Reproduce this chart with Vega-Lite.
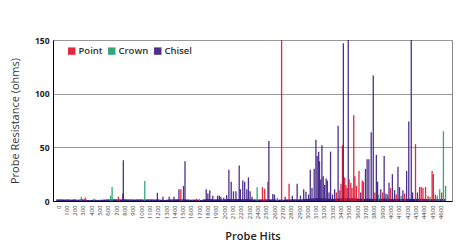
{
  "$schema": "https://vega.github.io/schema/vega-lite/v6.json",
  "width": 399,
  "height": 161,
  "autosize": {"type": "none"},
  "padding": {"left": 53, "top": 40, "right": 20, "bottom": 47},
  "background": "#ffffff",
  "config": {
    "view": {"stroke": "#888888", "strokeWidth": 1},
    "font": "Open Sans"
  },
  "datasets": {
    "base": [
      {"hit": 0, "ohms": 1.5, "probe": "Chisel"}, {"hit": 40, "ohms": 1.5, "probe": "Chisel"}, {"hit": 80, "ohms": 1.4, "probe": "Chisel"}, {"hit": 120, "ohms": 1.5, "probe": "Chisel"}, {"hit": 160, "ohms": 1.3, "probe": "Chisel"}, {"hit": 200, "ohms": 1.5, "probe": "Chisel"}, {"hit": 240, "ohms": 1.2, "probe": "Chisel"}, {"hit": 280, "ohms": 1.5, "probe": "Chisel"}, {"hit": 320, "ohms": 1.4, "probe": "Chisel"}, {"hit": 360, "ohms": 1.0, "probe": "Chisel"},
      {"hit": 400, "ohms": 1.0, "probe": "Chisel"}, {"hit": 440, "ohms": 1.2, "probe": "Chisel"}, {"hit": 480, "ohms": 1.0, "probe": "Chisel"}, {"hit": 520, "ohms": 1.1, "probe": "Chisel"}, {"hit": 560, "ohms": 1.3, "probe": "Chisel"}, {"hit": 600, "ohms": 1.5, "probe": "Chisel"}, {"hit": 640, "ohms": 1.5, "probe": "Chisel"}, {"hit": 680, "ohms": 1.6, "probe": "Chisel"}, {"hit": 720, "ohms": 1.5, "probe": "Chisel"}, {"hit": 760, "ohms": 1.5, "probe": "Chisel"},
      {"hit": 800, "ohms": 1.6, "probe": "Chisel"}, {"hit": 840, "ohms": 1.5, "probe": "Chisel"}, {"hit": 880, "ohms": 1.5, "probe": "Chisel"}, {"hit": 920, "ohms": 1.4, "probe": "Chisel"}, {"hit": 960, "ohms": 1.5, "probe": "Chisel"}, {"hit": 1000, "ohms": 1.5, "probe": "Chisel"}, {"hit": 1040, "ohms": 1.3, "probe": "Chisel"}, {"hit": 1080, "ohms": 1.5, "probe": "Chisel"}, {"hit": 1120, "ohms": 1.5, "probe": "Chisel"}, {"hit": 1160, "ohms": 1.4, "probe": "Chisel"},
      {"hit": 1200, "ohms": 1.5, "probe": "Chisel"}, {"hit": 1240, "ohms": 1.2, "probe": "Chisel"}, {"hit": 1280, "ohms": 1.0, "probe": "Chisel"}, {"hit": 1320, "ohms": 1.2, "probe": "Chisel"}, {"hit": 1360, "ohms": 1.5, "probe": "Chisel"}, {"hit": 1400, "ohms": 1.5, "probe": "Chisel"}, {"hit": 1440, "ohms": 1.6, "probe": "Chisel"}, {"hit": 1480, "ohms": 1.5, "probe": "Chisel"}, {"hit": 1520, "ohms": 1.5, "probe": "Chisel"}, {"hit": 1560, "ohms": 1.4, "probe": "Chisel"},
      {"hit": 1600, "ohms": 1.2, "probe": "Chisel"}, {"hit": 1640, "ohms": 1.3, "probe": "Chisel"}, {"hit": 1680, "ohms": 1.2, "probe": "Chisel"}, {"hit": 1720, "ohms": 1.0, "probe": "Chisel"}, {"hit": 1760, "ohms": 1.5, "probe": "Chisel"}, {"hit": 1800, "ohms": 1.8, "probe": "Chisel"}, {"hit": 1840, "ohms": 1.7, "probe": "Chisel"}, {"hit": 1880, "ohms": 1.5, "probe": "Chisel"}, {"hit": 1920, "ohms": 1.6, "probe": "Chisel"}, {"hit": 1960, "ohms": 1.5, "probe": "Chisel"},
      {"hit": 2000, "ohms": 1.6, "probe": "Chisel"}, {"hit": 2040, "ohms": 1.8, "probe": "Chisel"}, {"hit": 2080, "ohms": 1.8, "probe": "Chisel"}, {"hit": 2120, "ohms": 1.7, "probe": "Chisel"}, {"hit": 2160, "ohms": 1.8, "probe": "Chisel"}, {"hit": 2200, "ohms": 1.8, "probe": "Chisel"}, {"hit": 2240, "ohms": 1.6, "probe": "Chisel"}, {"hit": 2280, "ohms": 1.8, "probe": "Chisel"}, {"hit": 2320, "ohms": 1.5, "probe": "Chisel"}, {"hit": 2360, "ohms": 1.5, "probe": "Chisel"},
      {"hit": 2400, "ohms": 1.4, "probe": "Chisel"}, {"hit": 2440, "ohms": 1.5, "probe": "Chisel"}, {"hit": 2480, "ohms": 1.5, "probe": "Chisel"}, {"hit": 2520, "ohms": 1.6, "probe": "Chisel"}, {"hit": 2560, "ohms": 1.5, "probe": "Chisel"}, {"hit": 2600, "ohms": 1.5, "probe": "Chisel"}, {"hit": 2640, "ohms": 1.2, "probe": "Chisel"}, {"hit": 2680, "ohms": 1.3, "probe": "Chisel"}, {"hit": 2720, "ohms": 1.2, "probe": "Chisel"}, {"hit": 2760, "ohms": 1.5, "probe": "Chisel"},
      {"hit": 2800, "ohms": 1.5, "probe": "Chisel"}, {"hit": 2840, "ohms": 1.6, "probe": "Chisel"}, {"hit": 2880, "ohms": 1.5, "probe": "Chisel"}, {"hit": 2920, "ohms": 1.5, "probe": "Chisel"}, {"hit": 2960, "ohms": 1.8, "probe": "Chisel"}, {"hit": 3000, "ohms": 2.0, "probe": "Chisel"}, {"hit": 3040, "ohms": 2.2, "probe": "Chisel"}, {"hit": 3080, "ohms": 2.5, "probe": "Chisel"}, {"hit": 3120, "ohms": 2.5, "probe": "Chisel"}, {"hit": 3160, "ohms": 2.5, "probe": "Chisel"},
      {"hit": 3200, "ohms": 2.4, "probe": "Chisel"}, {"hit": 3240, "ohms": 2.2, "probe": "Chisel"}, {"hit": 3280, "ohms": 2.0, "probe": "Chisel"}, {"hit": 3320, "ohms": 2.0, "probe": "Chisel"}, {"hit": 3360, "ohms": 2.2, "probe": "Chisel"}, {"hit": 3400, "ohms": 2.5, "probe": "Chisel"}, {"hit": 3440, "ohms": 2.5, "probe": "Chisel"}, {"hit": 3480, "ohms": 2.5, "probe": "Chisel"}, {"hit": 3520, "ohms": 2.5, "probe": "Chisel"}, {"hit": 3560, "ohms": 2.5, "probe": "Chisel"},
      {"hit": 3600, "ohms": 2.3, "probe": "Chisel"}, {"hit": 3640, "ohms": 2.0, "probe": "Chisel"}, {"hit": 3680, "ohms": 2.0, "probe": "Chisel"}, {"hit": 3720, "ohms": 2.2, "probe": "Chisel"}, {"hit": 3760, "ohms": 2.0, "probe": "Chisel"}, {"hit": 3800, "ohms": 2.0, "probe": "Chisel"}, {"hit": 3840, "ohms": 2.0, "probe": "Chisel"}, {"hit": 3880, "ohms": 2.0, "probe": "Chisel"}, {"hit": 3920, "ohms": 2.2, "probe": "Chisel"}, {"hit": 3960, "ohms": 2.0, "probe": "Chisel"},
      {"hit": 4000, "ohms": 2.0, "probe": "Chisel"}, {"hit": 4040, "ohms": 2.0, "probe": "Chisel"}, {"hit": 4080, "ohms": 2.0, "probe": "Chisel"}, {"hit": 4120, "ohms": 2.0, "probe": "Chisel"}, {"hit": 4160, "ohms": 2.0, "probe": "Chisel"}, {"hit": 4200, "ohms": 2.0, "probe": "Chisel"}, {"hit": 4240, "ohms": 2.0, "probe": "Chisel"}, {"hit": 4280, "ohms": 2.0, "probe": "Chisel"}, {"hit": 4320, "ohms": 2.0, "probe": "Chisel"}, {"hit": 4360, "ohms": 2.0, "probe": "Chisel"},
      {"hit": 4400, "ohms": 2.0, "probe": "Chisel"}, {"hit": 4440, "ohms": 1.8, "probe": "Chisel"}, {"hit": 4480, "ohms": 1.8, "probe": "Chisel"}, {"hit": 4520, "ohms": 1.8, "probe": "Chisel"}, {"hit": 4560, "ohms": 1.8, "probe": "Chisel"}, {"hit": 4600, "ohms": 1.8, "probe": "Chisel"}, {"hit": 4640, "ohms": 1.8, "probe": "Chisel"}
    ],
    "spikes": [
      {"hit": 282, "ohms": 4, "probe": "Crown"}, {"hit": 328, "ohms": 3, "probe": "Point"}, {"hit": 434, "ohms": 2, "probe": "Crown"}, {"hit": 633, "ohms": 5, "probe": "Crown"}, {"hit": 651, "ohms": 13, "probe": "Crown"},
      {"hit": 727, "ohms": 4, "probe": "Point"}, {"hit": 780, "ohms": 7, "probe": "Chisel"}, {"hit": 786, "ohms": 38, "probe": "Chisel"}, {"hit": 1044, "ohms": 18.6, "probe": "Crown"}, {"hit": 1196, "ohms": 7.7, "probe": "Chisel"},
      {"hit": 1263, "ohms": 4, "probe": "Chisel"}, {"hit": 1337, "ohms": 4, "probe": "Chisel"}, {"hit": 1396, "ohms": 4, "probe": "Chisel"}, {"hit": 1455, "ohms": 11, "probe": "Chisel"}, {"hit": 1478, "ohms": 11, "probe": "Point"},
      {"hit": 1510, "ohms": 14, "probe": "Chisel"}, {"hit": 1528, "ohms": 37, "probe": "Chisel"}, {"hit": 1666, "ohms": 2, "probe": "Point"}, {"hit": 1701, "ohms": 2, "probe": "Crown"}, {"hit": 1783, "ohms": 11, "probe": "Chisel"},
      {"hit": 1803, "ohms": 7, "probe": "Chisel"}, {"hit": 1826, "ohms": 10, "probe": "Chisel"}, {"hit": 1862, "ohms": 5, "probe": "Chisel"}, {"hit": 1920, "ohms": 5, "probe": "Chisel"}, {"hit": 1941, "ohms": 5, "probe": "Chisel"},
      {"hit": 1959, "ohms": 4, "probe": "Chisel"}, {"hit": 1994, "ohms": 3, "probe": "Chisel"}, {"hit": 2029, "ohms": 5.5, "probe": "Chisel"}, {"hit": 2056, "ohms": 29, "probe": "Chisel"}, {"hit": 2084, "ohms": 18, "probe": "Chisel"},
      {"hit": 2111, "ohms": 9, "probe": "Chisel"}, {"hit": 2141, "ohms": 9, "probe": "Chisel"}, {"hit": 2180, "ohms": 33, "probe": "Chisel"}, {"hit": 2194, "ohms": 11, "probe": "Chisel"}, {"hit": 2223, "ohms": 19, "probe": "Chisel"},
      {"hit": 2246, "ohms": 18, "probe": "Chisel"}, {"hit": 2272, "ohms": 11, "probe": "Chisel"}, {"hit": 2291, "ohms": 22, "probe": "Chisel"}, {"hit": 2311, "ohms": 9, "probe": "Chisel"}, {"hit": 2334, "ohms": 4, "probe": "Chisel"},
      {"hit": 2396, "ohms": 12.7, "probe": "Crown"}, {"hit": 2460, "ohms": 13, "probe": "Point"}, {"hit": 2487, "ohms": 11.5, "probe": "Point"}, {"hit": 2525, "ohms": 18, "probe": "Point"}, {"hit": 2537, "ohms": 56, "probe": "Chisel"},
      {"hit": 2584, "ohms": 6.5, "probe": "Chisel"}, {"hit": 2604, "ohms": 6, "probe": "Chisel"}, {"hit": 2639, "ohms": 3, "probe": "Crown"}, {"hit": 2690, "ohms": 150, "probe": "Point"}, {"hit": 2733, "ohms": 4, "probe": "Chisel"},
      {"hit": 2780, "ohms": 16, "probe": "Point"}, {"hit": 2819, "ohms": 5, "probe": "Chisel"}, {"hit": 2877, "ohms": 16, "probe": "Chisel"}, {"hit": 2917, "ohms": 5, "probe": "Chisel"}, {"hit": 2956, "ohms": 11, "probe": "Chisel"},
      {"hit": 2983, "ohms": 8.7, "probe": "Chisel"}, {"hit": 3015, "ohms": 6, "probe": "Chisel"}, {"hit": 3035, "ohms": 29, "probe": "Chisel"}, {"hit": 3056, "ohms": 12, "probe": "Chisel"}, {"hit": 3082, "ohms": 30, "probe": "Chisel"},
      {"hit": 3103, "ohms": 57, "probe": "Chisel"}, {"hit": 3118, "ohms": 42, "probe": "Chisel"}, {"hit": 3136, "ohms": 46, "probe": "Chisel"}, {"hit": 3146, "ohms": 37, "probe": "Chisel"}, {"hit": 3161, "ohms": 20, "probe": "Chisel"},
      {"hit": 3175, "ohms": 52, "probe": "Chisel"}, {"hit": 3191, "ohms": 23, "probe": "Chisel"}, {"hit": 3208, "ohms": 15, "probe": "Chisel"}, {"hit": 3226, "ohms": 21, "probe": "Chisel"}, {"hit": 3241, "ohms": 19, "probe": "Chisel"},
      {"hit": 3261, "ohms": 8, "probe": "Chisel"}, {"hit": 3279, "ohms": 46, "probe": "Chisel"}, {"hit": 3302, "ohms": 6, "probe": "Chisel"}, {"hit": 3328, "ohms": 11, "probe": "Chisel"}, {"hit": 3349, "ohms": 8, "probe": "Point"},
      {"hit": 3370, "ohms": 70, "probe": "Chisel"}, {"hit": 3390, "ohms": 10, "probe": "Point"}, {"hit": 3405, "ohms": 16, "probe": "Point"}, {"hit": 3422, "ohms": 52, "probe": "Point"}, {"hit": 3433, "ohms": 147, "probe": "Chisel"},
      {"hit": 3449, "ohms": 22, "probe": "Point"}, {"hit": 3464, "ohms": 15, "probe": "Point"}, {"hit": 3478, "ohms": 12, "probe": "Point"}, {"hit": 3492, "ohms": 150, "probe": "Chisel"}, {"hit": 3502, "ohms": 20, "probe": "Point"},
      {"hit": 3523, "ohms": 17, "probe": "Point"}, {"hit": 3537, "ohms": 12, "probe": "Point"}, {"hit": 3558, "ohms": 80, "probe": "Point"}, {"hit": 3572, "ohms": 23, "probe": "Point"}, {"hit": 3590, "ohms": 14, "probe": "Point"},
      {"hit": 3621, "ohms": 28, "probe": "Point"}, {"hit": 3642, "ohms": 8, "probe": "Chisel"}, {"hit": 3660, "ohms": 19, "probe": "Point"}, {"hit": 3675, "ohms": 18, "probe": "Point"}, {"hit": 3699, "ohms": 30, "probe": "Chisel"},
      {"hit": 3719, "ohms": 39, "probe": "Chisel"}, {"hit": 3740, "ohms": 39, "probe": "Chisel"}, {"hit": 3768, "ohms": 64, "probe": "Chisel"}, {"hit": 3793, "ohms": 117, "probe": "Chisel"}, {"hit": 3812, "ohms": 8, "probe": "Point"},
      {"hit": 3830, "ohms": 43, "probe": "Chisel"}, {"hit": 3845, "ohms": 18, "probe": "Chisel"}, {"hit": 3859, "ohms": 6, "probe": "Crown"}, {"hit": 3883, "ohms": 11, "probe": "Chisel"}, {"hit": 3906, "ohms": 8, "probe": "Point"},
      {"hit": 3924, "ohms": 42, "probe": "Chisel"}, {"hit": 3945, "ohms": 7, "probe": "Chisel"}, {"hit": 3965, "ohms": 6, "probe": "Point"}, {"hit": 3982, "ohms": 17, "probe": "Chisel"}, {"hit": 4000, "ohms": 12, "probe": "Point"},
      {"hit": 4023, "ohms": 25, "probe": "Chisel"}, {"hit": 4050, "ohms": 10, "probe": "Chisel"}, {"hit": 4070, "ohms": 6, "probe": "Point"}, {"hit": 4090, "ohms": 32, "probe": "Chisel"}, {"hit": 4109, "ohms": 13, "probe": "Chisel"},
      {"hit": 4129, "ohms": 5, "probe": "Crown"}, {"hit": 4149, "ohms": 10, "probe": "Chisel"}, {"hit": 4170, "ohms": 7, "probe": "Point"}, {"hit": 4194, "ohms": 28, "probe": "Chisel"}, {"hit": 4220, "ohms": 74, "probe": "Chisel"},
      {"hit": 4250, "ohms": 150, "probe": "Chisel"}, {"hit": 4266, "ohms": 8, "probe": "Chisel"}, {"hit": 4301, "ohms": 53, "probe": "Point"}, {"hit": 4325, "ohms": 8, "probe": "Chisel"}, {"hit": 4350, "ohms": 13, "probe": "Point"},
      {"hit": 4370, "ohms": 13, "probe": "Point"}, {"hit": 4391, "ohms": 12, "probe": "Point"}, {"hit": 4422, "ohms": 13, "probe": "Point"}, {"hit": 4452, "ohms": 5, "probe": "Point"}, {"hit": 4475, "ohms": 4, "probe": "Crown"},
      {"hit": 4501, "ohms": 28, "probe": "Point"}, {"hit": 4516, "ohms": 25, "probe": "Point"}, {"hit": 4540, "ohms": 6, "probe": "Point"}, {"hit": 4563, "ohms": 5, "probe": "Crown"}, {"hit": 4592, "ohms": 11, "probe": "Crown"},
      {"hit": 4616, "ohms": 8, "probe": "Point"}, {"hit": 4637, "ohms": 65, "probe": "Crown"}, {"hit": 4663, "ohms": 14, "probe": "Crown"}
    ]
  },
  "encoding": {
    "x": {
      "field": "hit", "type": "quantitative",
      "scale": {"domain": [0, 4680], "nice": false, "zero": false},
      "axis": {
        "title": "Probe Hits",
        "values": [0,100,200,300,400,500,600,700,800,900,1000,1100,1200,1300,1400,1500,1600,1700,1800,1900,2000,2100,2200,2300,2400,2500,2600,2700,2800,2900,3000,3100,3200,3300,3400,3500,3600,3700,3800,3900,4000,4100,4200,4300,4400,4500,4600],
        "format": "d",
        "labelAngle": -90, "labelAlign": "right", "labelBaseline": "middle",
        "labelFontSize": 6, "labelColor": "#333333", "labelPadding": 4,
        "labelOverlap": false, "labelFlush": false,
        "ticks": false, "grid": false,
        "domainColor": "#000000",
        "titleFontSize": 11, "titleFontWeight": 600, "titleColor": "#222222", "titlePadding": 12
      }
    },
    "y": {
      "field": "ohms", "type": "quantitative",
      "scale": {"domain": [0, 150], "nice": false},
      "axis": {
        "title": "Probe Resistance (ohms)",
        "values": [0, 50, 100, 150],
        "labelFontSize": 8.5, "labelFontWeight": "bold", "labelColor": "#222222", "labelPadding": 4,
        "ticks": false, "grid": true, "gridColor": "#999999", "gridWidth": 1,
        "domainColor": "#000000",
        "titleFontSize": 11, "titleFontWeight": "normal", "titleColor": "#333333", "titlePadding": 14
      }
    },
    "color": {
      "field": "probe", "type": "nominal",
      "scale": {"domain": ["Point", "Crown", "Chisel"], "range": ["#e0102a", "#1e9c6c", "#3a1a80"]},
      "legend": {
        "title": null, "orient": "none", "legendX": 14, "legendY": 6, "direction": "horizontal",
        "symbolType": "square", "symbolSize": 55, "symbolStrokeWidth": 0,
        "labelFontSize": 9.5, "labelFontWeight": 600, "labelColor": "#333333",
        "columnPadding": 4, "labelOffset": 2, "padding": 0
      }
    }
  },
  "layer": [
    {"data": {"name": "base"}, "mark": {"type": "bar", "orient": "vertical", "width": 3.5}},
    {"data": {"name": "spikes"}, "mark": {"type": "bar", "orient": "vertical", "width": 1.3, "opacity": 0.9}}
  ]
}
